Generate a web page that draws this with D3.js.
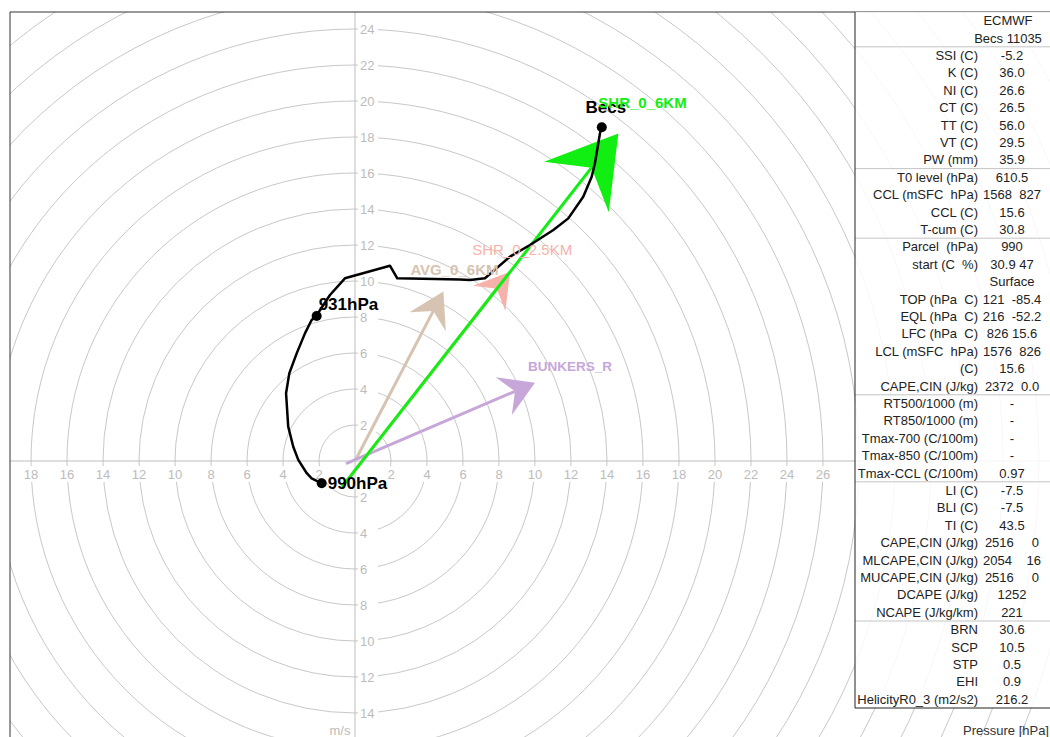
<!DOCTYPE html>
<html>
<head>
<meta charset="utf-8">
<script src="https://cdn.jsdelivr.net/npm/d3@7"></script>
<style>
  html, body { margin: 0; padding: 0; background: #fff; }
  svg { display: block; font-family: "Liberation Sans", Arial, sans-serif; }
</style>
</head>
<body>
<script>
// Hodograph wind profile (u, v in m/s), surface first
const profileU = [-1.85, -2.41, -2.68, -3.15, -3.43, -3.71, -3.83, -3.65, -3.24, -2.78, -2.41, -2.13, -1.94, -1.39, -0.56, 1.94, 2.35, 5.83, 6.39, 7.22, 8.61, 9.72, 11.02, 11.85, 12.68, 13.15, 13.33, 13.61, 13.71];
const profileV = [-1.24, -0.96, -0.68, 0.06, 0.79, 1.91, 3.76, 4.87, 5.98, 7.09, 7.83, 8.06, 8.39, 9.22, 10.15, 10.85, 10.15, 10.09, 10.06, 10.15, 11.35, 12.0, 12.83, 13.48, 14.68, 15.79, 16.54, 18.21, 18.54];

// marked levels: index into the profile + label
const markIndex = [0, 11, 28];
const markLabels = ['990hPa', '931hPa', 'Becs'];

// vectors
const vecNames = ['AVG_0_6KM', 'BUNKERS_R', 'SHR_0_2.5KM', 'SHR_0_6KM'];
const vecStartU = [0, -0.5, -0.72, -0.72];
const vecStartV = [0, -0.15, -1.44, -1.44];
const vecEndU = [4.91, 10.0, 8.62, 14.63];
const vecEndV = [9.41, 4.35, 10.52, 18.2];

// grid
const ringRadii = d3.range(2, 50, 2);
const xTickValues = d3.range(-18, 28, 2).filter(d => d !== 0);
const yTickValues = d3.range(-14, 26, 2).filter(d => d !== 0);

// index table
const headerRows = ['ECMWF', 'Becs 11035'];
const tableLabels = [
  'SSI (C)', 'K (C)', 'NI (C)', 'CT (C)', 'TT (C)', 'VT (C)', 'PW (mm)',
  'T0 level (hPa)', 'CCL (mSFC  hPa)', 'CCL (C)', 'T-cum (C)',
  'Parcel  (hPa)', 'start (C  %)', '', 'TOP (hPa  C)', 'EQL (hPa  C)', 'LFC (hPa  C)', 'LCL (mSFC  hPa)', '(C)', 'CAPE,CIN (J/kg)',
  'RT500/1000 (m)', 'RT850/1000 (m)', 'Tmax-700 (C/100m)', 'Tmax-850 (C/100m)', 'Tmax-CCL (C/100m)',
  'LI (C)', 'BLI (C)', 'TI (C)', 'CAPE,CIN (J/kg)', 'MLCAPE,CIN (J/kg)', 'MUCAPE,CIN (J/kg)', 'DCAPE (J/kg)', 'NCAPE (J/kg/km)',
  'BRN', 'SCP', 'STP', 'EHI', 'HelicityR0_3 (m2/s2)'
];
const tableValues = [
  '-5.2', '36.0', '26.6', '26.5', '56.0', '29.5', '35.9',
  '610.5', '1568  827', '15.6', '30.8',
  '990', '30.9 47', 'Surface', '121  -85.4', '216  -52.2', '826 15.6', '1576  826', '15.6', '2372  0.0',
  '-', '-', '-', '-', '0.97',
  '-7.5', '-7.5', '43.5', '2516     0', '2054    16', '2516     0', '1252', '221',
  '30.6', '10.5', '0.5', '0.9', '216.2'
];
const groupSizes = [7, 4, 9, 5, 8, 5];

const W = 1050, H = 737;
const frameL = 10, frameT = 12;
const unit = 18;
const origin = { x: 355, y: 461 };

const x = d3.scaleLinear().domain([0, 1]).range([origin.x, origin.x + unit]);
const y = d3.scaleLinear().domain([0, 1]).range([origin.y, origin.y - unit]);
const r = d3.scaleLinear().domain([0, 1]).range([0, unit]);

const svg = d3.select('body').append('svg')
  .attr('width', W)
  .attr('height', H);

svg.append('clipPath').attr('id', 'plotclip')
  .append('rect')
  .attr('x', frameL).attr('y', frameT)
  .attr('width', W - frameL).attr('height', H - frameT);

const plot = svg.append('g').attr('clip-path', 'url(#plotclip)');

// rings
plot.selectAll('circle.ring')
  .data(ringRadii)
  .enter()
  .append('circle')
  .attr('class', 'ring')
  .attr('cx', x(0))
  .attr('cy', y(0))
  .attr('r', d => r(d))
  .attr('fill', 'none')
  .attr('stroke', '#c8c8c8')
  .attr('stroke-width', 1);

// axes
plot.append('line')
  .attr('x1', frameL).attr('x2', W)
  .attr('y1', y(0)).attr('y2', y(0))
  .attr('stroke', '#bdbdbd');
plot.append('line')
  .attr('x1', x(0)).attr('x2', x(0))
  .attr('y1', frameT).attr('y2', H)
  .attr('stroke', '#bdbdbd');

const tickColor = '#bcbcbc';

// x tick labels with white boxes
const xt = plot.selectAll('g.xt')
  .data(xTickValues)
  .enter()
  .append('g')
  .attr('class', 'xt')
  .attr('transform', d => `translate(${x(d)},${y(0) + 13})`);
xt.append('rect')
  .attr('x', -10).attr('y', -8)
  .attr('width', 20).attr('height', 16)
  .attr('fill', '#fff');
xt.append('text')
  .attr('text-anchor', 'middle')
  .attr('dy', '0.35em')
  .attr('font-size', 13)
  .attr('fill', tickColor)
  .text(d => Math.abs(d));

// y tick labels
const yt = plot.selectAll('g.yt')
  .data(yTickValues)
  .enter()
  .append('g')
  .attr('class', 'yt')
  .attr('transform', d => `translate(${x(0) + 5},${y(d)})`);
yt.append('rect')
  .attr('x', -2).attr('y', -7)
  .attr('width', 20).attr('height', 14)
  .attr('fill', '#fff');
yt.append('text')
  .attr('dy', '0.35em')
  .attr('font-size', 13)
  .attr('fill', tickColor)
  .text(d => Math.abs(d));

svg.append('text')
  .attr('x', 340).attr('y', 735)
  .attr('text-anchor', 'middle')
  .attr('font-size', 13)
  .attr('fill', tickColor)
  .text('m/s');

// vectors
const vecColors = ['#d6c3b1', '#c7a7d9', '#f6b2aa', '#11ee11'];
const vecHead = [[34, 20.5], [34, 20.5], [34, 20.5], [68, 41]];
const vecWeight = ['bold', 'bold', 'normal', 'bold'];
const vecFont = [15, 13.5, 15, 15];
const vecLabelOff = [[-33, -17], [-7, -12], [-38, -17], [-20, -25]];

vecNames.forEach((name, i) => {
  const sx = x(vecStartU[i]), sy = y(vecStartV[i]);
  const tx = x(vecEndU[i]), ty = y(vecEndV[i]);
  const len = Math.hypot(tx - sx, ty - sy);
  const dx = (tx - sx) / len, dy = (ty - sy) / len;
  const px = -dy, py = dx;
  const [hl, hw] = vecHead[i];
  const bx = tx - dx * hl, by = ty - dy * hl;
  const nx = tx - dx * hl * 0.64, ny = ty - dy * hl * 0.64;

  plot.append('line')
    .attr('x1', sx).attr('y1', sy)
    .attr('x2', nx).attr('y2', ny)
    .attr('stroke', vecColors[i])
    .attr('stroke-width', 3);

  plot.append('path')
    .attr('d', d3.line()([[tx, ty], [bx + px * hw, by + py * hw], [nx, ny], [bx - px * hw, by - py * hw]]) + 'Z')
    .attr('fill', vecColors[i]);
});

// profile line
const pts = profileU.map((u, i) => [x(u), y(profileV[i])]);
plot.append('path')
  .attr('d', d3.line()(pts))
  .attr('fill', 'none')
  .attr('stroke', '#000')
  .attr('stroke-width', 2.5)
  .attr('stroke-linejoin', 'round');

plot.selectAll('circle.mark')
  .data(markIndex)
  .enter()
  .append('circle')
  .attr('class', 'mark')
  .attr('cx', d => x(profileU[d]))
  .attr('cy', d => y(profileV[d]))
  .attr('r', 5)
  .attr('fill', '#000');

const markOff = [[6, 6, 'start'], [2, -6, 'start'], [4, -14, 'middle']];
markIndex.forEach((d, i) => {
  plot.append('text')
    .attr('x', x(profileU[d]) + markOff[i][0])
    .attr('y', y(profileV[d]) + markOff[i][1])
    .attr('text-anchor', markOff[i][2])
    .attr('font-size', 17)
    .attr('font-weight', 'bold')
    .attr('fill', '#000')
    .text(markLabels[i]);
});

vecNames.forEach((name, i) => {
  plot.append('text')
    .attr('x', x(vecEndU[i]) + vecLabelOff[i][0])
    .attr('y', y(vecEndV[i]) + vecLabelOff[i][1])
    .attr('font-size', vecFont[i])
    .attr('font-weight', vecWeight[i])
    .attr('fill', vecColors[i])
    .text(name);
});

// frame
svg.append('path')
  .attr('d', `M${frameL},${H}V${frameT}H${W}`)
  .attr('fill', 'none')
  .attr('stroke', '#333')
  .attr('stroke-width', 1);

// index table
const tx0 = 855, rowH = 17.4, labelRight = 978, valueMid = 1012;
const nRows = headerRows.length + tableLabels.length;
const tbl = svg.append('g');
tbl.append('rect')
  .attr('x', tx0).attr('y', frameT)
  .attr('width', W - tx0).attr('height', nRows * rowH)
  .attr('fill', '#fff')
  .attr('fill-opacity', 0.85);

const rowY = i => frameT + (i + 0.5) * rowH + 4.5;

tbl.selectAll('text.hdr')
  .data(headerRows)
  .enter()
  .append('text')
  .attr('class', 'hdr')
  .attr('x', 1008)
  .attr('y', (d, i) => rowY(i))
  .attr('text-anchor', 'middle')
  .attr('font-size', 13)
  .attr('fill', '#222')
  .text(d => d);

tbl.selectAll('text.lab')
  .data(tableLabels)
  .enter()
  .append('text')
  .attr('class', 'lab')
  .attr('x', labelRight)
  .attr('y', (d, i) => rowY(i + headerRows.length))
  .attr('text-anchor', 'end')
  .attr('font-size', 13)
  .attr('fill', '#222')
  .style('white-space', 'pre')
  .text(d => d);

tbl.selectAll('text.val')
  .data(tableValues)
  .enter()
  .append('text')
  .attr('class', 'val')
  .attr('x', valueMid)
  .attr('y', (d, i) => rowY(i + headerRows.length))
  .attr('text-anchor', 'middle')
  .attr('font-size', 13)
  .attr('fill', '#222')
  .style('white-space', 'pre')
  .text(d => d);

// separators
const sepRows = [headerRows.length];
groupSizes.slice(0, -1).forEach(g => sepRows.push(sepRows[sepRows.length - 1] + g));
tbl.selectAll('line.sep')
  .data(sepRows)
  .enter()
  .append('line')
  .attr('class', 'sep')
  .attr('x1', tx0).attr('x2', W)
  .attr('y1', d => frameT + d * rowH)
  .attr('y2', d => frameT + d * rowH)
  .attr('stroke', '#c4c4c4');

tbl.append('path')
  .attr('d', `M${tx0},${frameT}V${frameT + nRows * rowH}H${W}`)
  .attr('fill', 'none')
  .attr('stroke', '#222')
  .attr('stroke-width', 1);

svg.append('text')
  .attr('x', 1006).attr('y', 735)
  .attr('text-anchor', 'middle')
  .attr('font-size', 13)
  .attr('fill', '#333')
  .text('Pressure [hPa]');
</script>
</body>
</html>
